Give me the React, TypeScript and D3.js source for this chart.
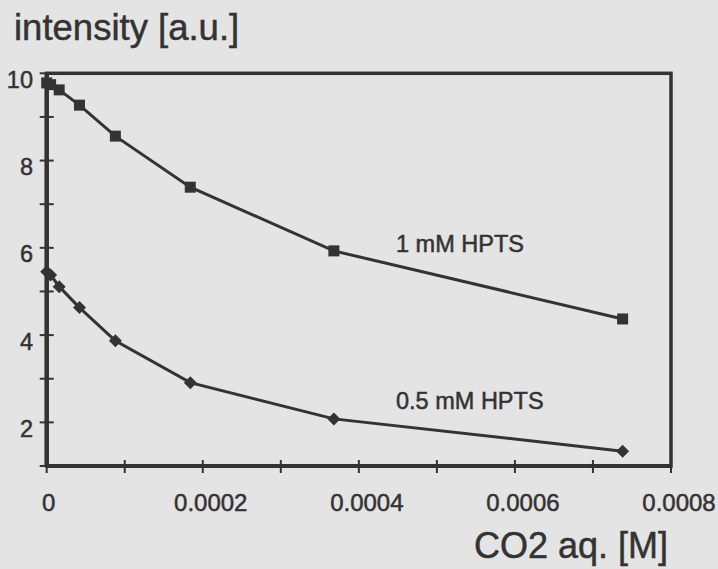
import React from "react";
import * as d3 from "d3";

// Data
const co2Values = [0, 0.000005, 0.000016, 0.000042, 0.000088, 0.000184, 0.000368, 0.000738];
const hpts1mM = [9.78, 9.74, 9.62, 9.27, 8.56, 7.39, 5.93, 4.37];
const hpts05mM = [5.45, 5.38, 5.11, 4.63, 3.87, 2.91, 2.08, 1.34];
const yTickLabels = [2, 4, 6, 8, 10];
const xTickLabels = [0, 0.0002, 0.0004, 0.0006, 0.0008];
const xLabelText = ["0", "0.0002", "0.0004", "0.0006", "0.0008"];
const seriesNames = ["1 mM HPTS", "0.5 mM HPTS"];

const W = 718;
const H = 569;
const L = 46.7, R = 671, T = 73.3, B = 466;
const INK = "#333333";
const BG = "#e4e4e4";
const FONT = "'Liberation Sans', Arial, Helvetica, sans-serif";
const TEXT_STROKE = { stroke: "#333333", strokeWidth: 0.5 };

export default function App() {
  const x = d3.scaleLinear().domain([0, 0.0008]).range([L, R]);
  const y = d3.scaleLinear().domain([1, 10]).range([B, T]);
  const line = d3
    .line<[number, number]>()
    .x((d) => x(d[0]))
    .y((d) => y(d[1]));
  const s1 = co2Values.map((c, i) => [c, hpts1mM[i]] as [number, number]);
  const s2 = co2Values.map((c, i) => [c, hpts05mM[i]] as [number, number]);
  const yTicks = y.ticks(9);
  const xTicks = x.ticks(8);
  const sq = 11;
  const dm = 6.5;

  return (
    <div style={{ position: "fixed", left: 0, top: 0 }}>
      <svg width={W} height={H} style={{ display: "block" }}>
        <rect x={0} y={0} width={W} height={H} fill={BG} />
        {/* frame */}
        <rect x={L} y={T} width={R - L} height={B - T} fill="none" stroke={INK} strokeWidth={3.5} />
        <line x1={L} x2={L} y1={T} y2={B} stroke={INK} strokeWidth={4.5} />
        <line x1={L} x2={R} y1={B} y2={B} stroke={INK} strokeWidth={4} />
        {/* y ticks */}
        {yTicks.map((t) => (
          <line key={"yt" + t} x1={L - 7} x2={t === 1 ? L : L + 7} y1={y(t)} y2={y(t)} stroke={INK} strokeWidth={2} />
        ))}
        {/* x ticks */}
        {xTicks.map((t, i) => (
          <line key={"xt" + i} x1={x(t)} x2={x(t)} y1={i === 0 ? B : B - 6} y2={B + 7} stroke={INK} strokeWidth={2} />
        ))}
        {/* y labels */}
        {yTickLabels.map((t) => (
          <text key={"yl" + t} x={33} y={y(t) + 14.5} textAnchor="end" fontFamily={FONT} fontSize={23.5} fill={INK} {...TEXT_STROKE}>
            {t}
          </text>
        ))}
        {/* x labels */}
        {xTickLabels.map((t, i) => (
          <text
            key={"xl" + i}
            x={x(t) + (i === 0 ? 2 : 8)}
            y={511}
            textAnchor="middle"
            fontFamily={FONT}
            fontSize={24}
            fill={INK}
            {...TEXT_STROKE}
          >
            {xLabelText[i]}
          </text>
        ))}
        {/* series lines */}
        <path d={line(s1) || ""} fill="none" stroke={INK} strokeWidth={3} />
        <path d={line(s2) || ""} fill="none" stroke={INK} strokeWidth={3} />
        {/* markers */}
        {s1.map((d, i) => (
          <rect key={"m1" + i} x={x(d[0]) - sq / 2} y={y(d[1]) - sq / 2} width={sq} height={sq} fill={INK} />
        ))}
        {s2.map((d, i) => (
          <path
            key={"m2" + i}
            d={`M${x(d[0])},${y(d[1]) - dm}L${x(d[0]) + dm},${y(d[1])}L${x(d[0])},${y(d[1]) + dm}L${x(d[0]) - dm},${y(d[1])}Z`}
            fill={INK}
          />
        ))}
        {/* series labels */}
        <text x={396} y={251.5} fontFamily={FONT} fontSize={23.5} fill={INK} {...TEXT_STROKE}>
          {seriesNames[0]}
        </text>
        <text x={396} y={409} fontFamily={FONT} fontSize={23.5} fill={INK} {...TEXT_STROKE}>
          {seriesNames[1]}
        </text>
        {/* axis titles */}
        <text x={14} y={40} fontFamily={FONT} fontSize={36.5} fill={INK} {...TEXT_STROKE}>
          intensity [a.u.]
        </text>
        <text x={474} y={558} fontFamily={FONT} fontSize={36} fill={INK} {...TEXT_STROKE}>
          CO2 aq. [M]
        </text>
      </svg>
    </div>
  );
}
